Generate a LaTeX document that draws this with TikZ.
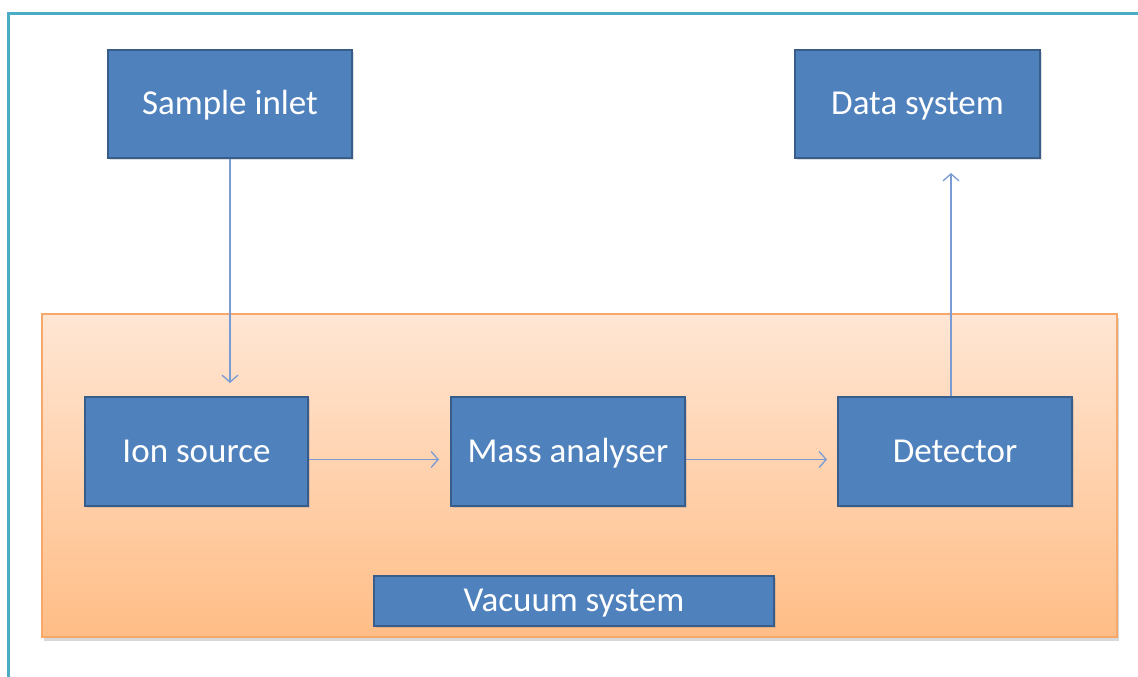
\documentclass[tikz,border=0pt]{standalone}
\usepackage{fontspec}
\setmainfont{Carlito}
\usetikzlibrary{arrows.meta,shadows,calc}
\definecolor{boxfill}{HTML}{4F81BD}
\definecolor{boxline}{HTML}{385D8A}
\definecolor{frameteal}{HTML}{4BACC6}
\definecolor{arrowblue}{HTML}{7A9CD3}
\definecolor{vactop}{HTML}{FFE6D4}
\definecolor{vacbot}{HTML}{FFBD86}
\definecolor{vacline}{HTML}{F5A869}
\tikzset{
  bluebox/.style={draw=boxline, line width=2pt, fill=boxfill, text=white,
    minimum height=108pt, inner sep=0pt, font=\fontsize{35}{42}\selectfont,
    text height=22pt, text depth=-3.5pt,
    drop shadow={shadow xshift=2pt, shadow yshift=-2pt, opacity=0.25}},
  arr/.style={draw=arrowblue, line width=1.3pt, -{Straight Barb[length=7pt,width=16pt,line width=1.3pt]}},
}
\begin{document}
\begin{tikzpicture}[x=1pt,y=1pt]
\useasboundingbox (0,0) rectangle (1138,677);
\fill[white] (0,0) rectangle (1138,677);
% outer frame
\draw[frameteal, line width=3pt] (8,-5) -- (8,663) -- (1145,663);
% vacuum region
\node[draw=vacline, line width=1.5pt, top color=vactop, bottom color=vacbot,
  minimum width=1075pt, minimum height=323pt, inner sep=0pt,
  drop shadow={shadow xshift=2pt, shadow yshift=-4pt, opacity=0.3}]
  (vac) at (579.5,201.5) {};
% boxes
\node[bluebox, minimum width=244pt] (sin) at (230,573) {Sample inlet};
\node[bluebox, minimum width=245pt] (ds) at (917.5,573) {Data system};
\node[bluebox, minimum width=223pt, minimum height=109pt] (ion) at (196.5,225.5) {Ion source};
\node[bluebox, minimum width=234pt, minimum height=109pt] (ma) at (568,225.5) {Mass analyser};
\node[bluebox, minimum width=234pt, minimum height=109pt] (det) at (955,225.5) {Detector};
\node[bluebox, minimum width=400pt, minimum height=50pt, line width=1.5pt] (vs) at (574,76) {Vacuum system};
% connectors
\draw[arr, shorten >=13pt] (sin.south) -- (sin.south |- ion.north);
\draw[arr, shorten >=11pt] ([yshift=-8pt]ion.east) -- ([yshift=-8pt]ma.west);
\draw[arr, shorten >=10pt] ([yshift=-8pt]ma.east) -- ([yshift=-8pt]det.west);
\draw[arr, shorten >=14pt] ([xshift=-4pt]det.north) -- ([xshift=-4pt]det.north |- ds.south);
\end{tikzpicture}
\end{document}
